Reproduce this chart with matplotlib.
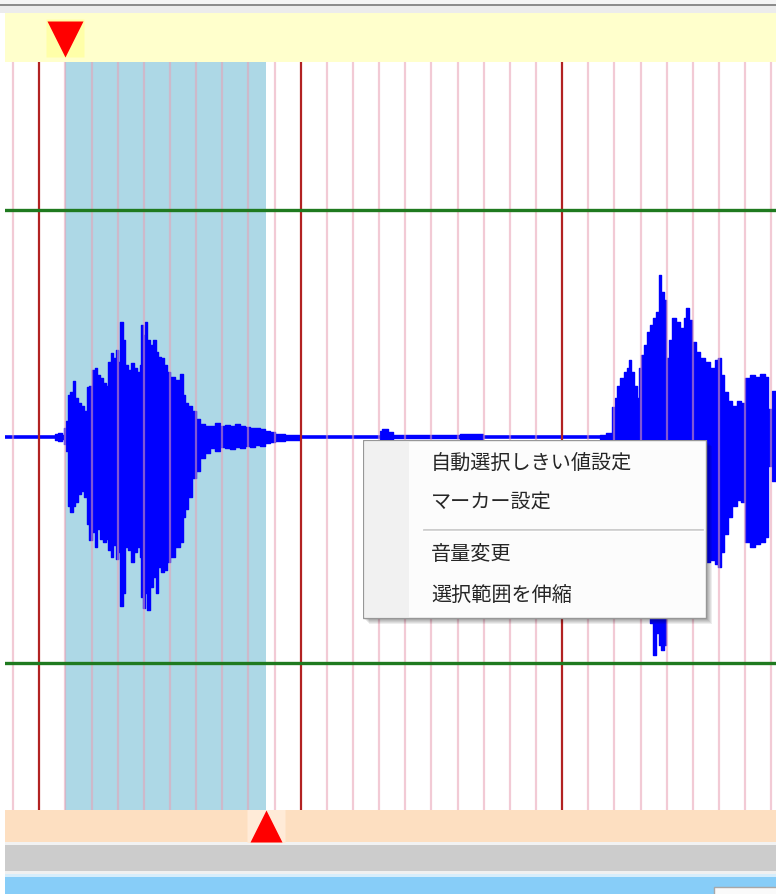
import numpy as np
import matplotlib
matplotlib.use("Agg")
import matplotlib.pyplot as plt
from matplotlib.patches import Rectangle
from matplotlib.ticker import MultipleLocator

plt.rcParams['font.family'] = ['Noto Sans CJK JP', 'DejaVu Sans']

# 波形データ (時間[s], 上側包絡, 下側包絡) 画像から読み取り
burst1_t = [1.060, 1.072, 1.087, 1.095, 1.102, 1.110, 1.118, 1.129, 1.137, 1.148,
            1.160, 1.171, 1.183, 1.190, 1.202, 1.213, 1.221, 1.233, 1.244, 1.255,
            1.263, 1.275, 1.282, 1.294, 1.301, 1.309, 1.320, 1.328, 1.340, 1.351,
            1.363, 1.374, 1.385, 1.389, 1.397, 1.405, 1.412, 1.424, 1.435, 1.447,
            1.454, 1.466, 1.477, 1.489, 1.500, 1.519, 1.538, 1.550, 1.558, 1.569,
            1.584, 1.600, 1.615, 1.634, 1.653, 1.672, 1.691, 1.711, 1.730, 1.749,
            1.768, 1.787, 1.806, 1.825, 1.844, 1.863, 1.883, 1.902, 1.940, 1.997]
burst1_top = [0.008, 0.011, 0.005, 0.024, 0.043, 0.110, 0.118, 0.147, 0.102, 0.091,
              0.083, 0.070, 0.131, 0.136, 0.176, 0.182, 0.163, 0.155, 0.144, 0.136,
              0.198, 0.222, 0.209, 0.230, 0.198, 0.305, 0.257, 0.190, 0.176, 0.195,
              0.182, 0.171, 0.190, 0.297, 0.270, 0.305, 0.257, 0.243, 0.257, 0.225,
              0.211, 0.209, 0.190, 0.171, 0.158, 0.150, 0.168, 0.110, 0.091, 0.083,
              0.070, 0.048, 0.035, 0.029, 0.029, 0.037, 0.029, 0.032, 0.029, 0.035,
              0.029, 0.027, 0.024, 0.024, 0.021, 0.016, 0.013, 0.008, 0.005, 0.004]
burst1_bot = [-0.008, -0.011, -0.005, -0.019, -0.037, -0.184, -0.198, -0.184, -0.171, -0.150,
              -0.144, -0.158, -0.230, -0.273, -0.251, -0.291, -0.243, -0.270, -0.278, -0.270,
              -0.299, -0.318, -0.286, -0.324, -0.305, -0.447, -0.412, -0.291, -0.299, -0.332,
              -0.305, -0.291, -0.318, -0.425, -0.452, -0.412, -0.457, -0.398, -0.372, -0.412,
              -0.345, -0.358, -0.353, -0.332, -0.318, -0.291, -0.278, -0.211, -0.190, -0.158,
              -0.110, -0.091, -0.056, -0.043, -0.029, -0.037, -0.027, -0.029, -0.032, -0.027,
              -0.029, -0.024, -0.027, -0.021, -0.024, -0.016, -0.013, -0.011, -0.008, -0.004]

burst2_t = [3.145, 3.167, 3.190, 3.202, 3.210, 3.221, 3.236, 3.248, 3.255, 3.263,
            3.275, 3.286, 3.294, 3.301, 3.313, 3.324, 3.336, 3.347, 3.359, 3.370,
            3.378, 3.389, 3.397, 3.408, 3.420, 3.435, 3.450, 3.466, 3.473, 3.485,
            3.496, 3.512, 3.527, 3.546, 3.565, 3.584, 3.596, 3.607, 3.619, 3.634,
            3.649, 3.668, 3.684, 3.699, 3.718, 3.737, 3.756, 3.776, 3.787, 3.802, 3.818]
burst2_top = [0.005, 0.011, 0.078, 0.102, 0.136, 0.155, 0.171, 0.182, 0.203, 0.171,
              0.136, 0.102, 0.182, 0.217, 0.243, 0.278, 0.297, 0.316, 0.332, 0.430,
              0.385, 0.364, 0.209, 0.257, 0.316, 0.305, 0.289, 0.316, 0.342, 0.310,
              0.251, 0.225, 0.209, 0.198, 0.182, 0.203, 0.209, 0.163, 0.118, 0.096,
              0.083, 0.096, 0.091, 0.155, 0.163, 0.160, 0.166, 0.158, 0.075, 0.123, 0.123]
burst2_bot = [-0.005, -0.011, -0.072, -0.091, -0.131, -0.144, -0.158, -0.171, -0.184, -0.171,
              -0.144, -0.118, -0.171, -0.211, -0.238, -0.278, -0.492, -0.578, -0.519, -0.551,
              -0.565, -0.551, -0.278, -0.332, -0.332, -0.345, -0.332, -0.332, -0.372, -0.345,
              -0.318, -0.305, -0.318, -0.332, -0.326, -0.337, -0.345, -0.305, -0.257, -0.211,
              -0.184, -0.166, -0.171, -0.278, -0.291, -0.283, -0.278, -0.265, -0.078, -0.118, -0.118]

# 無音部の小さなノイズ
noise_t = [2.303, 2.311, 2.334, 2.353, 2.609, 2.697]
noise_top = [0.015, 0.021, 0.012, 0.004, 0.008, 0.004]
noise_bot = [-0.010, -0.013, -0.008, -0.004, -0.008, -0.004]

sel_start = 1.099
sel_end = 1.867
threshold = 0.6
t_min, t_max = 0.869, 3.818
amp_min, amp_max = -0.988, 0.993

menu_items = ["自動選択しきい値設定", "マーカー設定", None, "音量変更", "選択範囲を伸縮"]

W, H = 776, 894
fig = plt.figure(figsize=(W / 100, H / 100), dpi=100)
fig.patch.set_facecolor('white')

# 背景 (UI部品)
bg = fig.add_axes([0, 0, 1, 1], zorder=0)
bg.set_xlim(0, W)
bg.set_ylim(H, 0)
bg.axis('off')
bg.add_patch(Rectangle((0, 0), W, 4, color='#f4f4f4', lw=0))
bg.add_patch(Rectangle((0, 4), W, 2, color='#8c8c8c', lw=0))
bg.add_patch(Rectangle((0, 6), W, 7, color='#ececec', lw=0))
bg.add_patch(Rectangle((5, 13), W, 49, color='#ffffcc', lw=0))
bg.add_patch(Rectangle((5, 810), W, 32, color='#fddfc1', lw=0))
bg.add_patch(Rectangle((5, 842), W, 3, color='#f2f2f2', lw=0))
bg.add_patch(Rectangle((5, 845), W, 26, color='#cccccc', lw=0))
bg.add_patch(Rectangle((5, 871), W, 3, color='#f0f0f0', lw=0))
bg.add_patch(Rectangle((5, 874), W, 3, color='#d6edfb', lw=0))
bg.add_patch(Rectangle((5, 877), W, 17, color='#87cdf8', lw=0))
bg.add_patch(Rectangle((714, 887), 70, 10, facecolor='#fafafa', edgecolor='#a8a8a8', lw=1))

# 波形
ax = fig.add_axes([5 / W, (H - 810) / H, (W - 5) / W, 748 / H], zorder=1)
ax.set_xlim(t_min, t_max)
ax.set_ylim(amp_min, amp_max)
ax.set_facecolor('white')
for s in ax.spines.values():
    s.set_visible(False)

ax.axvspan(sel_start, sel_end, color='lightblue', lw=0, zorder=0.5)
ax.axhline(0, color='#0000ff', lw=2.6, zorder=1.5)
for tt, top, bot in [(burst1_t, burst1_top, burst1_bot),
                     (burst2_t, burst2_top, burst2_bot),
                     (noise_t, noise_top, noise_bot)]:
    ax.fill_between(tt, top, bot, step='post', color='#0000ff', lw=1.0, zorder=1.6)

ax.xaxis.set_major_locator(MultipleLocator(1.0))
ax.xaxis.set_minor_locator(MultipleLocator(0.1))
ax.set_yticks([])
ax.tick_params(which='both', length=0, labelbottom=False, labelleft=False)
ax.set_axisbelow(False)
ax.grid(which='minor', axis='x', color='#e8a0b4', alpha=0.55, lw=1.6)
ax.grid(which='major', axis='x', color='#b22222', lw=1.6)
for y in (threshold, -threshold):
    ax.axhline(y, color='#1f7a1f', lw=2.4, zorder=3)

# 選択マーカー
top_ax = fig.add_axes([5 / W, (H - 62) / H, (W - 5) / W, 49 / H], zorder=2)
top_ax.set_xlim(t_min, t_max)
top_ax.set_ylim(0, 1)
top_ax.axis('off')
top_ax.plot([sel_start], [0.5], marker='s', ms=28, color='#ffffa8', mec='none')
top_ax.plot([sel_start], [0.47], marker='v', ms=26.5, color='#ff0000', mec='none')

bot_ax = fig.add_axes([5 / W, (H - 842) / H, (W - 5) / W, 32 / H], zorder=2)
bot_ax.set_xlim(t_min, t_max)
bot_ax.set_ylim(0, 1)
bot_ax.axis('off')
bot_ax.plot([sel_end], [0.5], marker='s', ms=28, color='#ffebd8', mec='none')
bot_ax.plot([sel_end], [0.5], marker='^', ms=22.5, color='#ff0000', mec='none')

# コンテキストメニュー
mw, mh, pad = 343, 178, 6
menu = fig.add_axes([363 / W, (H - 440 - mh - pad) / H, (mw + pad) / W, (mh + pad) / H], zorder=5)
menu.set_xlim(0, mw + pad)
menu.set_ylim(mh + pad, 0)
menu.axis('off')
menu.patch.set_alpha(0)
for k in range(1, pad + 1):
    menu.add_patch(Rectangle((k, k), mw, mh, facecolor='black', alpha=0.07, lw=0))
menu.add_patch(Rectangle((0, 0), mw, mh, facecolor='#fcfcfc', edgecolor='#979797', lw=1))
menu.add_patch(Rectangle((1.5, 1.5), 44, mh - 3, facecolor='#f1f1f1', lw=0))
item_y = [23, 63, 90, 115, 156]
for label, y in zip(menu_items, item_y):
    if label is None:
        menu.plot([61, 340], [y, y], color='#c4c4c4', lw=1.2)
        menu.plot([61, 340], [y + 1.2, y + 1.2], color='white', lw=1)
    else:
        menu.text(68, y, label, fontsize=14.5, color='#262626', va='center', ha='left')

fig.savefig('out.png', dpi=100, facecolor=fig.get_facecolor())
